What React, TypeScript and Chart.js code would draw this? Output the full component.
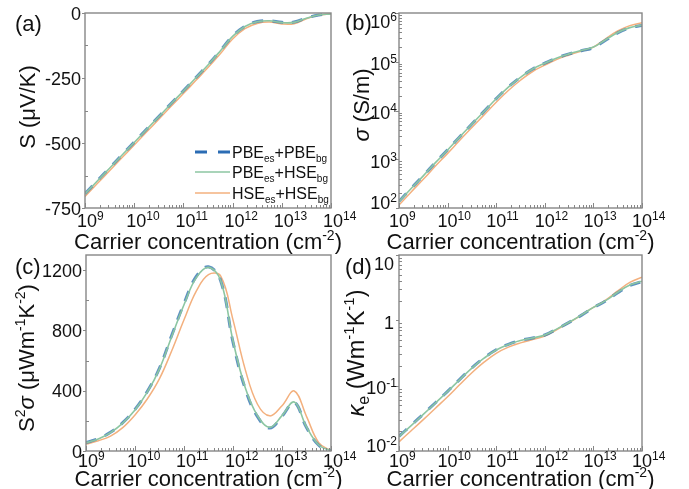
import React, { useEffect, useRef } from "react";
import { Chart, registerables } from "chart.js";

Chart.register(...registerables);

// ---------------- data ----------------
const concentration = [
  1e9, 1.78e9, 3.16e9, 5.62e9,
  1e10, 1.78e10, 3.16e10, 5.62e10,
  1e11, 1.78e11, 3.16e11, 5.62e11,
  1e12, 1.78e12, 3.16e12, 5.62e12,
  1e13, 1.78e13, 3.16e13, 5.62e13,
  1e14,
];

// (a) Seebeck coefficient, µV/K
const seebeckPbePbe = [-695, -645, -596, -546, -497, -447, -398, -348, -299, -249, -199, -145, -89, -51, -33, -30, -36, -35, -19, -8, -4];
const seebeckPbeHse = [-696, -646, -597, -547, -498, -448, -399, -349, -300, -250, -200, -146, -90, -52, -34, -30, -37, -36, -20, -8, -4];
const seebeckHseHse = [-706, -656, -607, -557, -508, -458, -409, -359, -310, -260, -210, -157, -100, -60, -40, -35, -42, -41, -22, -8, -3];

// (b) electrical conductivity, S/m
const sigmaPbePbe = [137, 254, 460, 855, 1560, 2900, 5280, 9600, 17500, 30400, 48200, 71000, 93500, 120000, 145000, 168000, 195000, 275000, 390000, 495000, 555000];
const sigmaPbeHse = [135, 251, 457, 851, 1550, 2880, 5250, 9550, 17400, 30200, 47900, 70800, 93300, 120000, 145000, 170000, 200000, 282000, 398000, 501000, 562000];
const sigmaHseHse = [115, 214, 389, 724, 1320, 2450, 4470, 8130, 14800, 25700, 41700, 63100, 85100, 112000, 138000, 166000, 200000, 295000, 427000, 550000, 631000];

// (c) power factor, µW m^-1 K^-2
const pfPbePbe = [56, 82, 124, 188, 276, 395, 550, 768, 978, 1158, 1222, 1128, 722, 412, 228, 152, 230, 322, 156, 38, 2];
const pfPbeHse = [55, 80, 122, 185, 272, 390, 545, 760, 970, 1150, 1218, 1130, 730, 420, 235, 157, 235, 325, 160, 40, 2];
const pfHseHse = [46, 68, 99, 155, 239, 345, 480, 665, 870, 1060, 1170, 1160, 870, 540, 310, 233, 300, 398, 230, 55, 2];

// (d) electronic thermal conductivity, W m^-1 K^-1
const kappaPbePbe = [0.0168, 0.0248, 0.0367, 0.0548, 0.082, 0.125, 0.188, 0.266, 0.354, 0.43, 0.492, 0.538, 0.596, 0.74, 0.93, 1.19, 1.56, 1.97, 2.65, 3.42, 3.9];
const kappaPbeHse = [0.0166, 0.0245, 0.0363, 0.0543, 0.0813, 0.124, 0.186, 0.263, 0.351, 0.427, 0.49, 0.537, 0.596, 0.741, 0.933, 1.2, 1.58, 2.0, 2.69, 3.47, 3.98];
const kappaHseHse = [0.0138, 0.0204, 0.0302, 0.0452, 0.0676, 0.104, 0.158, 0.229, 0.313, 0.389, 0.452, 0.507, 0.575, 0.724, 0.923, 1.2, 1.58, 2.04, 2.82, 3.8, 4.57];

// ticks
const xTickValues = [1e9, 1e10, 1e11, 1e12, 1e13, 1e14];
const xTickExponents = ["9", "10", "11", "12", "13", "14"];
const seebeckTickValues = [0, -250, -500, -750];
const seebeckMinorValues = [-125, -375, -625];
const sigmaTickValues = [1e2, 1e3, 1e4, 1e5, 1e6];
const sigmaTickExponents = ["2", "3", "4", "5", "6"];
const pfTickValues = [0, 400, 800, 1200];
const pfMinorValues = [200, 600, 1000];
const kappaTickValues = [1e-2, 1e-1, 1, 10];
const kappaTickBases = ["10", "10", "1", "10"];
const kappaTickExponents = ["-2", "-1", "", ""];

// legend labels: [main, sub, main, sub]
const legendPbePbe = ["PBE", "es", "+PBE", "bg"];
const legendPbeHse = ["PBE", "es", "+HSE", "bg"];
const legendHseHse = ["HSE", "es", "+HSE", "bg"];

// ---------------- styles ----------------
const FONT = '"Liberation Sans", Arial, Helvetica, sans-serif';
const FIG_W = 689;
const FIG_H = 489;
const AXIS_COLOR = "#878787";
const TEXT_COLOR = "#111111";
const BLUE = "#2b6cb4";
const BLUE_PLOT = "rgba(52,118,178,0.8)";
const GREEN = "#8cc6a2";
const ORANGE = "#f3b07e";
const DASH = [11, 9];

type Seg = { t: string; size?: number; italic?: boolean; dy?: number };
type TickLabel = { base: string; exp: string };

function segFont(s: Seg, base: number) {
  return `${s.italic ? "italic " : ""}${s.size ?? base}px ${FONT}`;
}
function richWidth(ctx: CanvasRenderingContext2D, segs: Seg[], base: number) {
  let w = 0;
  for (const s of segs) {
    ctx.font = segFont(s, base);
    w += ctx.measureText(s.t).width;
  }
  return w;
}
function drawRich(
  ctx: CanvasRenderingContext2D,
  segs: Seg[],
  x: number,
  y: number,
  base: number,
  align: "left" | "center" | "right"
) {
  const w = richWidth(ctx, segs, base);
  let cx = align === "left" ? x : align === "center" ? x - w / 2 : x - w;
  ctx.textAlign = "left";
  ctx.textBaseline = "alphabetic";
  for (const s of segs) {
    ctx.font = segFont(s, base);
    ctx.fillText(s.t, cx, y + (s.dy ?? 0));
    cx += ctx.measureText(s.t).width;
  }
}

function logMinor(e0: number, e1: number) {
  const out: number[] = [];
  for (let e = e0; e < e1; e++) for (let k = 2; k <= 9; k++) out.push(k * Math.pow(10, e));
  return out;
}

const TICK_SIZE = 18;
const EXP_SIZE = 12;
const TITLE_SIZE = 22;
const SUP_SIZE = 14;

const xTitle: Seg[] = [
  { t: "Carrier concentration (cm" },
  { t: "-2", size: SUP_SIZE, dy: -9 },
  { t: ")" },
];

interface PanelSpec {
  id: string;
  area: { l: number; t: number; r: number; b: number };
  yType: "linear" | "logarithmic";
  yMin: number;
  yMax: number;
  pbePbe: number[];
  pbeHse: number[];
  hseHse: number[];
  yTicks: number[];
  yTickLabels: TickLabel[];
  yMinor: number[];
  yTitle: Seg[];
  yTitleSize: number;
  yTitleX: number;
  yTitleY: number;
  label: string;
  labelX: number;
  labelY: number;
  xLabelOffset: number;
  xLabelShift: number;
  xTitleBaseline: number;
  legend: boolean;
}

const panels: PanelSpec[] = [
  {
    id: "a",
    area: { l: 85, t: 13, r: 331, b: 208 },
    yType: "linear",
    yMin: -750,
    yMax: 0,
    pbePbe: seebeckPbePbe,
    pbeHse: seebeckPbeHse,
    hseHse: seebeckHseHse,
    yTicks: seebeckTickValues,
    yTickLabels: seebeckTickValues.map((v) => ({ base: String(v), exp: "" })),
    yMinor: seebeckMinorValues,
    yTitle: [{ t: "S" }, { t: " (μV/K)" }],
    yTitleSize: 22,
    yTitleX: 27,
    yTitleY: 107,
    label: "(a)",
    labelX: 15,
    labelY: 31,
    xLabelOffset: 19,
    xLabelShift: 2,
    xTitleBaseline: 249,
    legend: true,
  },
  {
    id: "b",
    area: { l: 399, t: 13, r: 642, b: 208 },
    yType: "logarithmic",
    yMin: 1e2,
    yMax: 1e6,
    pbePbe: sigmaPbePbe,
    pbeHse: sigmaPbeHse,
    hseHse: sigmaHseHse,
    yTicks: sigmaTickValues,
    yTickLabels: sigmaTickExponents.map((e) => ({ base: "10", exp: e })),
    yMinor: logMinor(2, 6),
    yTitle: [{ t: "σ", italic: true }, { t: " (S/m)" }],
    yTitleSize: 22,
    yTitleX: 361,
    yTitleY: 105,
    label: "(b)",
    labelX: 345,
    labelY: 30,
    xLabelOffset: 19,
    xLabelShift: 0,
    xTitleBaseline: 249,
    legend: false,
  },
  {
    id: "c",
    area: { l: 86, t: 255, r: 331, b: 451 },
    yType: "linear",
    yMin: 0,
    yMax: 1300,
    pbePbe: pfPbePbe,
    pbeHse: pfPbeHse,
    hseHse: pfHseHse,
    yTicks: pfTickValues,
    yTickLabels: pfTickValues.map((v) => ({ base: String(v), exp: "" })),
    yMinor: pfMinorValues,
    yTitle: [
      { t: "S" },
      { t: "2", size: SUP_SIZE, dy: -9 },
      { t: "σ", italic: true },
      { t: " (μWm" },
      { t: "-1", size: SUP_SIZE, dy: -9 },
      { t: "K" },
      { t: "-2", size: SUP_SIZE, dy: -9 },
      { t: ")" },
    ],
    yTitleSize: 22,
    yTitleX: 26,
    yTitleY: 358,
    label: "(c)",
    labelX: 15,
    labelY: 274,
    xLabelOffset: 16,
    xLabelShift: 2,
    xTitleBaseline: 486,
    legend: false,
  },
  {
    id: "d",
    area: { l: 399, t: 255, r: 642, b: 451 },
    yType: "logarithmic",
    yMin: 1e-2,
    yMax: 10,
    pbePbe: kappaPbePbe,
    pbeHse: kappaPbeHse,
    hseHse: kappaHseHse,
    yTicks: kappaTickValues,
    yTickLabels: kappaTickBases.map((b, i) => ({ base: b, exp: kappaTickExponents[i] })),
    yMinor: logMinor(-2, 1),
    yTitle: [
      { t: "κ", italic: true },
      { t: "e", size: 16, dy: 5 },
      { t: " (Wm" },
      { t: "-1", size: 15, dy: -10 },
      { t: "K" },
      { t: "-1", size: 15, dy: -10 },
      { t: ")" },
    ],
    yTitleSize: 23.5,
    yTitleX: 356,
    yTitleY: 353,
    label: "(d)",
    labelX: 345,
    labelY: 274,
    xLabelOffset: 16,
    xLabelShift: 0,
    xTitleBaseline: 486,
    legend: false,
  },
];

const xMinorValues = logMinor(9, 14);

function decorPlugin(spec: PanelSpec) {
  return {
    id: "decor_" + spec.id,
    afterDraw(chart: any) {
      const ctx: CanvasRenderingContext2D = chart.ctx;
      const xs = chart.scales.x;
      const ys = chart.scales.y;
      const { left, top, right, bottom } = chart.chartArea;
      ctx.save();

      // tick marks
      ctx.strokeStyle = AXIS_COLOR;
      ctx.lineWidth = 1;
      ctx.beginPath();
      for (const v of xTickValues) {
        const px = Math.round(xs.getPixelForValue(v)) + 0.5;
        ctx.moveTo(px, bottom);
        ctx.lineTo(px, bottom - 5);
      }
      for (const v of xMinorValues) {
        const px = Math.round(xs.getPixelForValue(v)) + 0.5;
        ctx.moveTo(px, bottom);
        ctx.lineTo(px, bottom - 3);
      }
      for (const v of spec.yTicks) {
        const py = Math.round(ys.getPixelForValue(v)) + 0.5;
        ctx.moveTo(left, py);
        ctx.lineTo(left - 3, py);
      }
      for (const v of spec.yMinor) {
        const py = Math.round(ys.getPixelForValue(v)) + 0.5;
        ctx.moveTo(left, py);
        ctx.lineTo(left + 3, py);
      }
      ctx.stroke();

      // frame
      ctx.lineWidth = 1.4;
      ctx.strokeRect(left, top, right - left, bottom - top);

      ctx.fillStyle = TEXT_COLOR;

      // x tick labels: base centred on tick, exponent appended
      xTickValues.forEach((v, i) => {
        const px = xs.getPixelForValue(v) + spec.xLabelShift;
        ctx.font = `${TICK_SIZE}px ${FONT}`;
        const wb = ctx.measureText("10").width;
        const base = bottom + spec.xLabelOffset;
        drawRich(
          ctx,
          [
            { t: "10" },
            { t: xTickExponents[i], size: EXP_SIZE, dy: -7 },
          ],
          px - wb / 2,
          base,
          TICK_SIZE,
          "left"
        );
      });

      // y tick labels
      spec.yTicks.forEach((v, i) => {
        const lab = spec.yTickLabels[i];
        const py = ys.getPixelForValue(v);
        if (spec.yType === "linear") {
          drawRich(ctx, [{ t: lab.base }], left - 4, py + 6.5, TICK_SIZE, "right");
        } else {
          let c = py + 2;
          c = Math.max(top + 8, Math.min(bottom - 6, c));
          const segs: Seg[] = [{ t: lab.base }];
          if (lab.exp) segs.push({ t: lab.exp, size: EXP_SIZE, dy: -7 });
          drawRich(ctx, segs, left - (lab.exp ? 2 : 5), c + 6.5, TICK_SIZE, "right");
        }
      });

      // x title
      drawRich(ctx, xTitle, (left + right) / 2, spec.xTitleBaseline, TITLE_SIZE, "center");

      // y title (rotated)
      ctx.save();
      ctx.translate(spec.yTitleX, spec.yTitleY);
      ctx.rotate(-Math.PI / 2);
      drawRich(ctx, spec.yTitle, 0, spec.yTitleSize * 0.358, spec.yTitleSize, "center");
      ctx.restore();

      // panel label
      drawRich(ctx, [{ t: spec.label }], spec.labelX, spec.labelY, TITLE_SIZE, "left");

      // legend
      if (spec.legend) {
        const rows = [
          { y: 152, color: BLUE, width: 3, dash: [12, 11], lab: legendPbePbe },
          { y: 172, color: GREEN, width: 1.5, dash: [] as number[], lab: legendPbeHse },
          { y: 193, color: ORANGE, width: 1.5, dash: [] as number[], lab: legendHseHse },
        ];
        for (const r of rows) {
          ctx.strokeStyle = r.color;
          ctx.lineWidth = r.width;
          ctx.setLineDash(r.dash);
          ctx.beginPath();
          ctx.moveTo(195, r.y);
          ctx.lineTo(230, r.y);
          ctx.stroke();
          ctx.setLineDash([]);
          ctx.fillStyle = TEXT_COLOR;
          drawRich(
            ctx,
            [
              { t: r.lab[0] },
              { t: r.lab[1], size: 10, dy: 4 },
              { t: r.lab[2] },
              { t: r.lab[3], size: 10, dy: 4 },
            ],
            232,
            r.y + 6,
            16,
            "left"
          );
        }
      }

      ctx.restore();
    },
  };
}

function PanelChart({ spec }: { spec: PanelSpec }) {
  const ref = useRef<HTMLCanvasElement>(null);
  useEffect(() => {
    const canvas = ref.current;
    if (!canvas) return;
    const mk = (arr: number[]) => concentration.map((x, i) => ({ x, y: arr[i] }));
    const chart = new Chart(canvas, {
      type: "line",
      data: {
        datasets: [
          {
            label: "PBEes+HSEbg",
            data: mk(spec.pbeHse),
            borderColor: GREEN,
            borderWidth: 1.6,
            pointRadius: 0,
            tension: 0.4,
            fill: false,
            order: 0,
          },
          {
            label: "PBEes+PBEbg",
            data: mk(spec.pbePbe),
            borderColor: BLUE_PLOT,
            borderWidth: 3,
            borderDash: DASH,
            pointRadius: 0,
            tension: 0.4,
            fill: false,
            order: 1,
          },
          {
            label: "HSEes+HSEbg",
            data: mk(spec.hseHse),
            borderColor: ORANGE,
            borderWidth: 1.5,
            pointRadius: 0,
            tension: 0.4,
            fill: false,
            order: 2,
          },
        ],
      },
      options: {
        animation: false,
        responsive: false,
        maintainAspectRatio: false,
        devicePixelRatio: 1,
        events: [],
        layout: {
          padding: {
            left: spec.area.l,
            top: spec.area.t,
            right: FIG_W - spec.area.r,
            bottom: FIG_H - spec.area.b,
          },
        },
        plugins: {
          legend: { display: false },
          tooltip: { enabled: false },
          title: { display: false },
        },
        scales: {
          x: { type: "logarithmic", min: 1e9, max: 1e14, display: false },
          y: { type: spec.yType, min: spec.yMin, max: spec.yMax, display: false },
        },
      } as any,
      plugins: [decorPlugin(spec)],
    });
    return () => chart.destroy();
  }, [spec]);
  return (
    <canvas
      ref={ref}
      width={FIG_W}
      height={FIG_H}
      style={{ position: "absolute", left: 0, top: 0, width: FIG_W, height: FIG_H }}
    />
  );
}

export default function App() {
  return (
    <div
      style={{
        position: "absolute",
        left: 0,
        top: 0,
        width: FIG_W,
        height: FIG_H,
        background: "#ffffff",
        overflow: "hidden",
      }}
    >
      {panels.map((p) => (
        <PanelChart key={p.id} spec={p} />
      ))}
    </div>
  );
}
